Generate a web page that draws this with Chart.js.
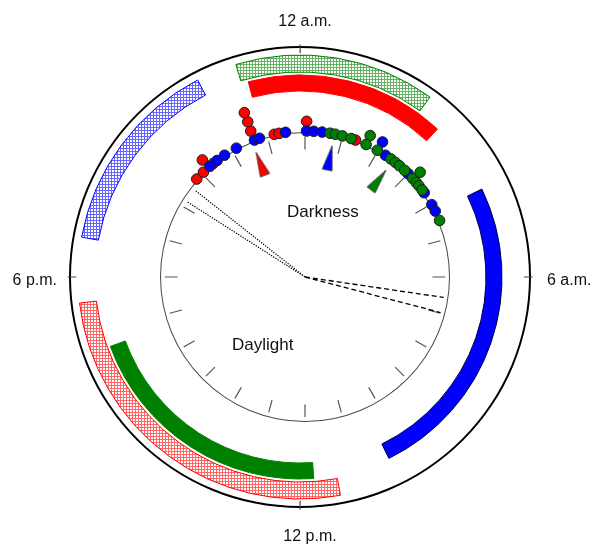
<!DOCTYPE html>
<html><head><meta charset="utf-8">
<script src="https://cdn.jsdelivr.net/npm/chart.js@4.4.1/dist/chart.umd.min.js"></script>
<style>
html,body{margin:0;padding:0;background:#fff;}
#wrap{position:relative;width:595px;height:544px;overflow:hidden;background:#fff;}
canvas{position:absolute;}
.lbl{position:absolute;font-family:"Liberation Sans",Arial,sans-serif;color:#111;white-space:nowrap;font-size:16px;line-height:16px;}
.big{font-size:17px;line-height:17px;}
</style></head><body>
<div id="wrap">
<canvas id="bands" width="480" height="480" style="left:60px;top:37px"></canvas>
<canvas id="inner" width="300" height="300" style="left:155px;top:127px"></canvas>
<canvas id="marks" width="520" height="520" style="left:45px;top:17px"></canvas>
<div class="lbl" id="l0" style="left:255px;top:13px;width:100px;text-align:center"></div>
<div class="lbl" id="l1" style="left:547px;top:272px"></div>
<div class="lbl" id="l2" style="left:260px;top:528px;width:100px;text-align:center"></div>
<div class="lbl" id="l3" style="left:0px;top:272px;width:57px;text-align:right"></div>
<div class="lbl big" id="dark" style="left:287px;top:203px"></div>
<div class="lbl big" id="day" style="left:232px;top:336px"></div>
</div>
<script>
// ---------------- data (hours on a 24-h clock, 0 = midnight at top) ----------------
const clockLabels = ['12 a.m.', '6 a.m.', '12 p.m.', '6 p.m.'];
const clockLabelHours = [0, 6, 12, 18];
const regionLabels = ['Darkness', 'Daylight'];
const hourTicks = [0,1,2,3,4,5,6,7,8,9,10,11,12,13,14,15,16,17,18,19,20,21,22,23];

// hatched activity bands (outer ring): green, red, blue
const hatchedStart = [22.88, 11.30, 18.69];
const hatchedEnd   = [2.39, 17.55, 22.17];
// solid activity bands (inner ring): red, blue, green
const solidStart = [23.01, 4.28, 11.74];
const solidEnd   = [2.86, 10.26, 16.66];

// sunset (dotted) and sunrise (dashed) lines
const sunsetTimes  = [20.17, 20.55];
const sunriseTimes = [6.56, 6.98];

// mean direction arrows: red, blue, green
const meanTimes = [22.57, 0.78, 2.48];

// individual events (time, stack level)
const redTimes   = [20.81, 21.06, 21.25, 21.40, 22.64, 22.65, 22.65, 23.19, 23.32, 0.04, 1.35];
const redLevels  = [0, 0, 1, 0, 1, 2, 3, 0, 0, 1, 0];
const blueTimes  = [21.29, 21.53, 21.77, 22.13, 22.65, 22.79, 23.49, 0.04, 0.23, 0.45, 1.99, 2.23, 3.00, 3.65, 4.02, 4.21];
const blueLevels = [0, 0, 0, 0, 0, 0, 0, 0, 0, 0, 1, 0, 0, 0, 0, 0];
const greenTimes = [0.66, 0.80, 0.99, 1.23, 1.65, 1.65, 1.98, 2.40, 2.55, 2.69, 2.87, 3.17, 3.18, 3.31, 3.42, 3.56, 4.48];
const greenLevels= [0, 0, 0, 0, 1, 0, 0, 0, 0, 0, 0, 0, 1, 0, 0, 0, 0];

// ---------------- styling ----------------
const RED = '#ff0000', BLUE = '#0000ff', GREEN = '#008000';
const CLEAR = 'rgba(0,0,0,0)';

clockLabels.forEach((t, i) => document.getElementById('l' + i).textContent = t);
document.getElementById('dark').textContent = regionLabels[0];
document.getElementById('day').textContent = regionLabels[1];

function hatch(color) {
  const c = document.createElement('canvas');
  c.width = 3; c.height = 3;
  const g = c.getContext('2d');
  g.fillStyle = '#fff'; g.fillRect(0, 0, 3, 3);
  g.globalAlpha = 0.6;
  g.fillStyle = color;
  g.fillRect(0, 0, 3, 1);
  g.fillRect(0, 1, 1, 2);
  return g.createPattern(c, 'repeat');
}

function ring(starts, ends, fills, borders) {
  const n = starts.length;
  const idx = [...Array(n).keys()].sort((a, b) => starts[a] - starts[b]);
  const data = [], bg = [], bc = [], bw = [];
  for (let k = 0; k < n; k++) {
    const i = idx[k], j = idx[(k + 1) % n];
    data.push((ends[i] - starts[i] + 24) % 24, (starts[j] - ends[i] + 24) % 24);
    bg.push(fills[i], CLEAR); bc.push(borders[i], CLEAR); bw.push(1, 0);
  }
  return {data, backgroundColor: bg, borderColor: bc, borderWidth: bw, rotation: starts[idx[0]] * 15};
}

const common = {responsive: false, animation: false, events: [],
  plugins: {legend: {display: false}, tooltip: {enabled: false}}, layout: {padding: 0}};

// outer circle + activity bands
const R_OUT = 231, R_CUT = 186;
new Chart(document.getElementById('bands'), {
  type: 'doughnut',
  data: {datasets: [
    {data: [24], backgroundColor: '#000', borderWidth: 0, weight: 2},
    {data: [24], backgroundColor: CLEAR, borderWidth: 0, weight: 7},
    Object.assign(ring(hatchedStart, hatchedEnd, [hatch(GREEN), hatch(RED), hatch(BLUE)], [GREEN, RED, BLUE]), {weight: 17}),
    {data: [24], backgroundColor: CLEAR, borderWidth: 0, weight: 3},
    Object.assign(ring(solidStart, solidEnd, [RED, BLUE, GREEN], [RED, '#000044', GREEN]), {weight: 16})
  ]},
  options: Object.assign({radius: R_OUT, cutout: (R_CUT / R_OUT * 100) + '%'}, common)
});

// inner circle
new Chart(document.getElementById('inner'), {
  type: 'doughnut',
  data: {datasets: [{data: [24], backgroundColor: '#4a4a4a', borderWidth: 0}]},
  options: Object.assign({radius: 145, cutout: (144 / 145 * 100) + '%'}, common)
});

// marks
const R_DOT = 150, R_STEP = 10, R_IN = 144, TICK_IN = 13;
const OUT_CX = -5, R_CIRCLE = 230, TICK_OUT = 9;
const GAP = {x: NaN, y: NaN};
function pt(h, r, cx = 0, cy = 0) {
  const a = h / 24 * 2 * Math.PI;
  return {x: cx + r * Math.sin(a), y: cy + r * Math.cos(a)};
}
function segs(hours, r1, r2, cx = 0) {
  const out = [];
  hours.forEach(h => { out.push(pt(h, r1, cx), pt(h, r2, cx), Object.assign({}, GAP)); });
  return out;
}
function rays(hours) {
  const out = [];
  hours.forEach(h => { out.push({x: 0, y: 0}, pt(h, R_IN), Object.assign({}, GAP)); });
  return out;
}
function dots(times, levels) { return times.map((t, i) => pt(t, R_DOT + R_STEP * levels[i])); }
function tri(color) {
  const c = document.createElement('canvas');
  c.width = 12; c.height = 26;
  const g = c.getContext('2d');
  g.beginPath(); g.moveTo(6, 0.7); g.lineTo(11, 25.3); g.lineTo(1, 25.3); g.closePath();
  g.fillStyle = color; g.fill();
  g.strokeStyle = '#222'; g.lineWidth = 0.7; g.stroke();
  return c;
}
const lineDs = (data, color, dash, w) => ({data, showLine: true, borderColor: color, borderWidth: w,
  borderDash: dash, pointRadius: 0, spanGaps: false, fill: false});
const dotDs = (data, color, order) => ({data, showLine: false, pointRadius: 5.3, pointBorderWidth: 1,
  pointBackgroundColor: color, pointBorderColor: '#1a1a1a', order});

new Chart(document.getElementById('marks'), {
  type: 'scatter',
  data: {datasets: [
    Object.assign(lineDs(segs(hourTicks, R_IN, R_IN - TICK_IN), '#555', [], 1.2), {order: 10}),
    Object.assign(lineDs(segs(clockLabelHours, R_CIRCLE, R_CIRCLE + TICK_OUT, OUT_CX), '#444', [], 1.2), {order: 10}),
    Object.assign(lineDs(rays(sunsetTimes), '#000', [1.3, 1.3], 1.2), {order: 9}),
    Object.assign(lineDs(rays(sunriseTimes), '#000', [5, 3], 1.3), {order: 9}),
    {data: meanTimes.map(t => pt(t, 125)), showLine: false, pointRadius: 6,
     pointStyle: [tri(RED), tri(BLUE), tri(GREEN)], rotation: meanTimes.map(t => t * 15), order: 5},
    dotDs(dots(redTimes, redLevels), RED, 3),
    dotDs(dots(blueTimes, blueLevels), BLUE, 2),
    dotDs(dots(greenTimes, greenLevels), GREEN, 1)
  ]},
  options: Object.assign({
    scales: {
      x: {type: 'linear', min: -260, max: 260, display: false},
      y: {type: 'linear', min: -260, max: 260, display: false}
    }
  }, common)
});
</script>
</body></html>
